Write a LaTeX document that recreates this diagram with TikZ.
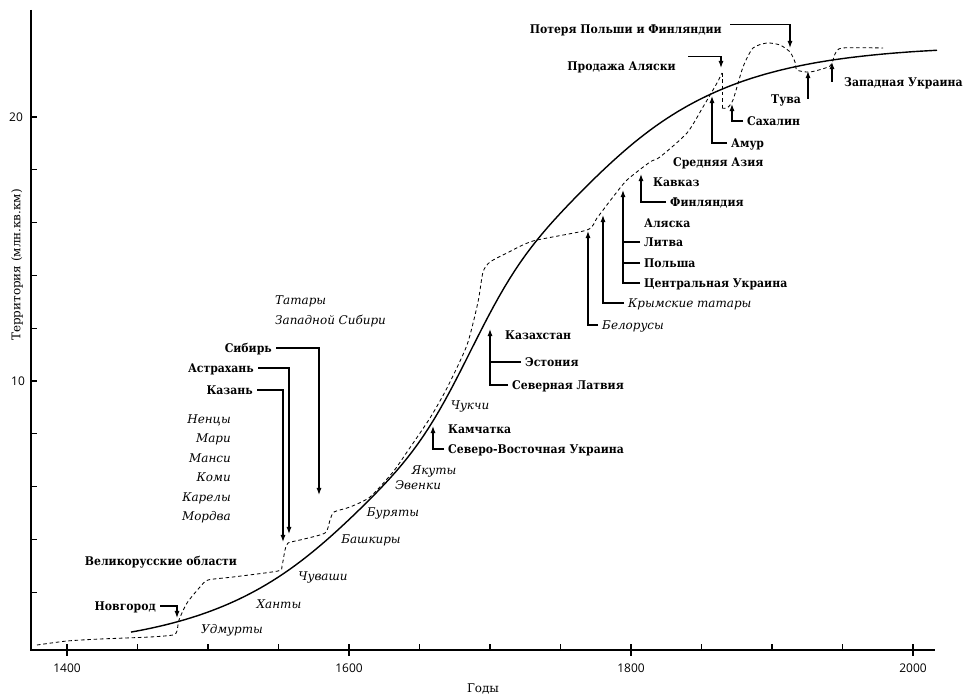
\documentclass[tikz,border=0pt]{standalone}
\usepackage{fontspec}
\setmainfont{DejaVu Serif}
\newfontfamily\landfont[FakeStretch=0.91]{DejaVu Serif}
\newfontfamily\numfont{Open Sans}
\usetikzlibrary{arrows.meta}

\begin{document}
\begin{tikzpicture}[x=0.025cm, y=-0.025cm]
\tikzset{ >={Latex[length=5pt,width=3.6pt]},
  axis/.style={line width=1.6pt},
  tick/.style={line width=0.8pt},
  trend/.style={line width=1pt},
  real/.style={line width=0.6pt, dash pattern=on 2.5pt off 2pt},
  arr/.style={->, line width=0.9pt},
  land/.style={font=\fontsize{8.5}{10}\selectfont\landfont\bfseries, inner sep=2.8pt, text height=6pt, text depth=0pt},
  folk/.style={font=\fontsize{8.5}{10}\selectfont\itshape, inner sep=2.8pt, text height=6pt, text depth=0pt},
  num/.style={font=\fontsize{8.5}{10}\selectfont\numfont, inner sep=0pt},
}
\useasboundingbox (0,0) rectangle (967,695);
%\draw [lightgray, dashed, step=50](0,0) grid (967,695);

\coordinate (O) at (31,650);
\coordinate (Ytop) at (31,10);
\coordinate (Xend) at (935,650);
\draw [axis] (Ytop) -- (O) -- (Xend);

\foreach \v in {2,4,...,20}
  \draw [tick] (31,{645-26.4*\v}) -- ++(6,0);
\foreach \yr in {1450,1500,1550,1650,1700,1750,1850,1900,1950}
  \draw [tick] ({67+(\yr-1400)*1.41},650) -- ++(0,-6);
\foreach \yr in {1400,1600,1800,2000} {
  \draw [tick] ({67+(\yr-1400)*1.41},644) -- ++(0,12);
  \node [num] (yr\yr) at ({67+(\yr-1400)*1.41},668) {\yr};
}

\node [num] (v10) at (18,381) {10};
\node [num] (v20) at (16,117) {20};
\node [font=\fontsize{8.5}{10}\selectfont, rotate=90] (ylab) at (17,265) {Территория (млн.кв.км)};
\node [font=\fontsize{8.5}{10}\selectfont] (xlab) at (483,689) {Годы};

% trend
\draw [trend] plot [domain=131:937, samples=150] (\x, {650-605/(1+exp(-(\x-473)/98))-0.45*(\x-470)*exp(-((\x-470)/70)^2)});

% real territory
\draw [real] plot [smooth, tension=0.4] coordinates {(37,645) (67,641) (100,639) (150,637) (173,635) (177,631) (179,620) (187,603) (200,587) (208,580) (233,577) (278,571) (282,566) (285,550) (288,543) (300,540) (325,533) (330,520) (334,512) (350,507) (370,497) (393,472) (407,452) (430,418) (447,388) (467,345) (478,302) (483,272) (490,262) (507,253) (533,241) (587,230) (597,218) (613,197) (627,180) (650,162) (660,157) (687,133) (703,107) (717,83) (722,73)};
\draw [real] (722,73) -- (722,108);
\draw [real] plot [smooth, tension=0.4] coordinates {(722,108) (727,108) (733,100) (743,67) (753,48) (767,43) (780,45) (790,52) (795,62) (797,70) (810,72) (830,66) (835,54) (842,48) (883,48)};

% arrow tips
\coordinate (tNov) at (177,618);
\coordinate (tKazan) at (283,542);
\coordinate (tAstr) at (289,534);
\coordinate (tSib) at (319,495);
\coordinate (tKamch) at (433,426);
\coordinate (tKazakh) at (490,329);
\coordinate (tBel) at (588,231);
\coordinate (tCrim) at (603,215);
\coordinate (tCentr) at (623,190);
\coordinate (tFin) at (641,174);
\coordinate (tAmur) at (712,96);
\coordinate (tSakh) at (732,104);
\coordinate (tTuva) at (808,71);
\coordinate (tZap) at (832,62);
\coordinate (tProd) at (721,68);
\coordinate (tLoss) at (790,48);

% left
\node [land, anchor=east] (nNov) at (160,606) {Новгород};
\node [land] (nVel) at (161,561) {Великорусские области};
\node [land, anchor=east] (nKazan) at (257,390) {Казань};
\node [land, anchor=east] (nAstr) at (258,368) {Астрахань};
\node [land, anchor=east] (nSib) at (276,348) {Сибирь};

\draw [arr] (nNov.east) -| (tNov);
\draw [arr] (nKazan.east) -| (tKazan);
\draw [arr] (nAstr.east) -| (tAstr);
\draw [arr] (nSib.east) -| (tSib);

\node [folk, anchor=east] (pNen) at (235,419) {Ненцы};
\node [folk, anchor=east] (pMar) at (235,438) {Мари};
\node [folk, anchor=east] (pMan) at (235,458) {Манси};
\node [folk, anchor=east] (pKom) at (235,477) {Коми};
\node [folk, anchor=east] (pKar) at (235,497) {Карелы};
\node [folk, anchor=east] (pMor) at (235,516) {Мордва};
\node [folk, anchor=west] (pTat) at (271,300) {Татары};
\node [folk, anchor=west] (pZap) at (271,320) {Западной Сибири};

\node [folk] (pUdm) at (232,629) {Удмурты};
\node [folk] (pHan) at (279,604) {Ханты};
\node [folk] (pChuv) at (323,576) {Чуваши};
\node [folk] (pBash) at (371,539) {Башкиры};
\node [folk] (pBur) at (393,512) {Буряты};
\node [folk] (pEv) at (418,485) {Эвенки};
\node [folk] (pYak) at (434,470) {Якуты};
\node [folk] (pChuk) at (470,405) {Чукчи};

% middle
\node [land, anchor=west] (nKamch) at (444,429) {Камчатка};
\node [land, anchor=west] (nSVU) at (444,449) {Северо-Восточная Украина};
\draw [arr] (nSVU.west) -| (tKamch);

\node [land, anchor=west] (nKazakh) at (501,335) {Казахстан};
\node [land, anchor=west] (nEst) at (521,362) {Эстония};
\node [land, anchor=west] (nSevLat) at (508,385) {Северная Латвия};
\draw [arr] (nSevLat.west) -| (tKazakh);
\draw [arr, -] (nEst.west) -- (nEst.west -| tKazakh);

% right
\node [folk, anchor=west] (pBel) at (598,325) {Белорусы};
\node [folk, anchor=west] (pCrim) at (624,303) {Крымские татары};
\draw [arr] (pBel.west) -| (tBel);
\draw [arr] (pCrim.west) -| (tCrim);

\node [land, anchor=west] (nCentr) at (640,283) {Центральная Украина};
\node [land, anchor=west] (nPol) at (640,263) {Польша};
\node [land, anchor=west] (nLit) at (640,242) {Литва};
\node [land, anchor=west] (nAlas) at (640,223) {Аляска};
\draw [arr] (nCentr.west) -| (tCentr);
\draw [arr, -] (nPol.west) -- (nPol.west -| tCentr);
\draw [arr, -] (nLit.west) -- (nLit.west -| tCentr);

\node [land, anchor=west] (nFin) at (666,202) {Финляндия};
\node [land, anchor=west] (nKavk) at (649,182) {Кавказ};
\node [land, anchor=west] (nSrA) at (669,162) {Средняя Азия};
\draw [arr] (nFin.west) -| (tFin);

\node [land, anchor=west] (nAmur) at (727,143) {Амур};
\node [land, anchor=west] (nSakh) at (743,121) {Сахалин};
\node [land, anchor=west] (nTuva) at (767,99) {Тува};
\node [land, anchor=west] (nZap) at (840,82) {Западная Украина};
\draw [arr] (nAmur.west) -| (tAmur);
\draw [arr] (nSakh.west) -| (tSakh);
\draw [arr] (nTuva.east -| tTuva) -- (tTuva);
\draw [arr] (nZap.west -| tZap) -- (tZap);

\node [land, anchor=east] (nProd) at (680,66) {Продажа Аляски};
\node [land, anchor=east] (nLoss) at (726,29) {Потеря Польши и Финляндии};
\draw [arr] ([xshift=6pt,yshift=7pt]nProd.east) -| (tProd);
\draw [arr] ([xshift=3pt,yshift=3pt]nLoss.east) -| (tLoss);

\end{tikzpicture}
\end{document}
